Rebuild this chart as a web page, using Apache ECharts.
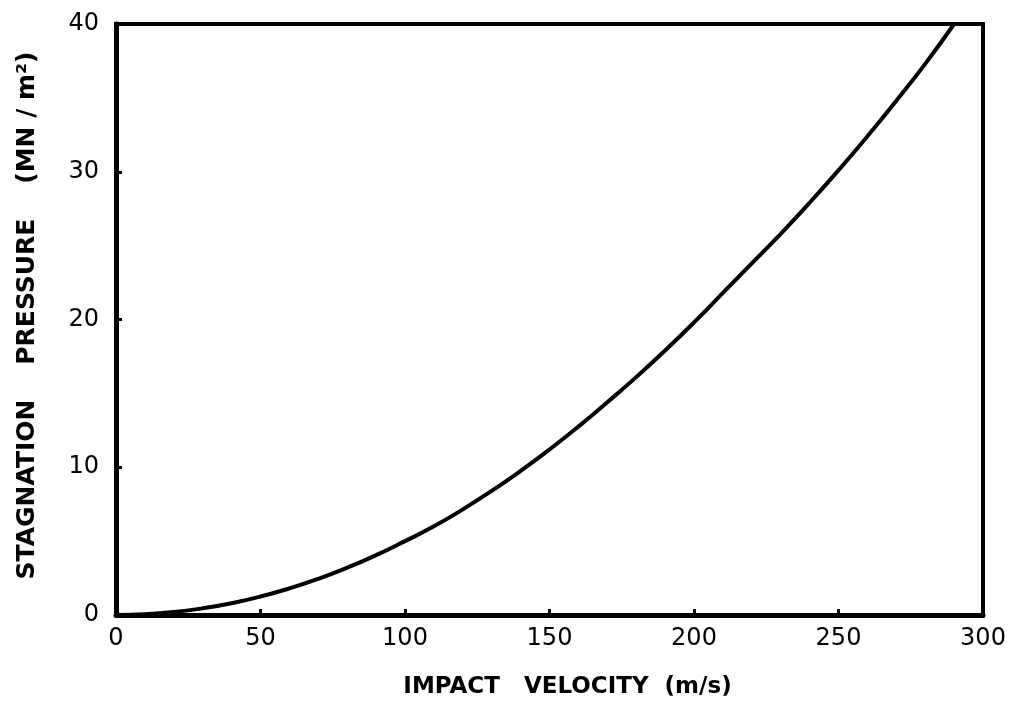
<!DOCTYPE html>
<html>
<head>
<meta charset="utf-8">
<script src="https://cdn.jsdelivr.net/npm/echarts@6/dist/echarts.min.js"></script>
<style>
html,body{margin:0;padding:0;background:#fff;}
#c{width:1012px;height:704px;}
</style>
</head>
<body>
<div id="c"></div>
<script>
// Impact velocity (m/s)
const velocity = [0,10,20,30,40,50,60,70,80,90,100,110,120,130,140,150,160,170,180,190,200,210,220,230,240,250,260,270,280,290];
// Stagnation pressure (MN/m^2)
const pressure = [0,0.05,0.2,0.45,0.8,1.25,1.8,2.45,3.2,4.05,5.0,6.0,7.15,8.4,9.75,11.2,12.75,14.4,16.1,17.9,19.8,21.8,23.8,25.8,27.9,30.1,32.4,34.8,37.3,40.0];
const xTicks = [0,50,100,150,200,250,300];
const yTicks = [0,10,20,30,40];
const xTitle = 'IMPACT   VELOCITY  (m/s)';
const yTitle = 'STAGNATION    PRESSURE    (MN / m²)';

const chart = echarts.init(document.getElementById('c'), null, {renderer:'canvas'});
const labelFont = {color:'#000', fontFamily:'DejaVu Sans', fontSize:24};
chart.setOption({
  animation:false,
  backgroundColor:'#fff',
  grid:{left:116, right:29, top:24, bottom:89, show:true, borderColor:'#000', borderWidth:4, backgroundColor:'transparent'},
  xAxis:{
    type:'value', min:0, max:300, interval:50,
    axisLine:{show:true, lineStyle:{color:'#000', width:5}},
    axisTick:{show:true, inside:true, length:6, lineStyle:{color:'#000', width:3}},
    splitLine:{show:false},
    axisLabel:Object.assign({margin:12, formatter:v=>xTicks.includes(v)?String(v):''}, labelFont),
    name:xTitle, nameLocation:'middle', nameGap:61,
    nameTextStyle:{color:'#000', fontFamily:'DejaVu Sans', fontWeight:'bold', fontSize:23, padding:[0,0,0,36]}
  },
  yAxis:{
    type:'value', min:0, max:40, interval:10,
    axisLine:{show:true, lineStyle:{color:'#000', width:5}},
    axisTick:{show:true, inside:true, length:6, lineStyle:{color:'#000', width:3}},
    splitLine:{show:false},
    axisLabel:Object.assign({margin:17, formatter:v=>yTicks.includes(v)?String(v):''}, labelFont),
    name:yTitle, nameLocation:'middle', nameGap:76,
    nameTextStyle:{color:'#000', fontFamily:'DejaVu Sans', fontWeight:'bold', fontSize:25, padding:[0,0,0,8]}
  },
  series:[{
    type:'line',
    data:velocity.map((v,i)=>[v,pressure[i]]),
    smooth:true,
    showSymbol:false,
    lineStyle:{color:'#000', width:4},
    clip:true
  }]
});
</script>
</body>
</html>
